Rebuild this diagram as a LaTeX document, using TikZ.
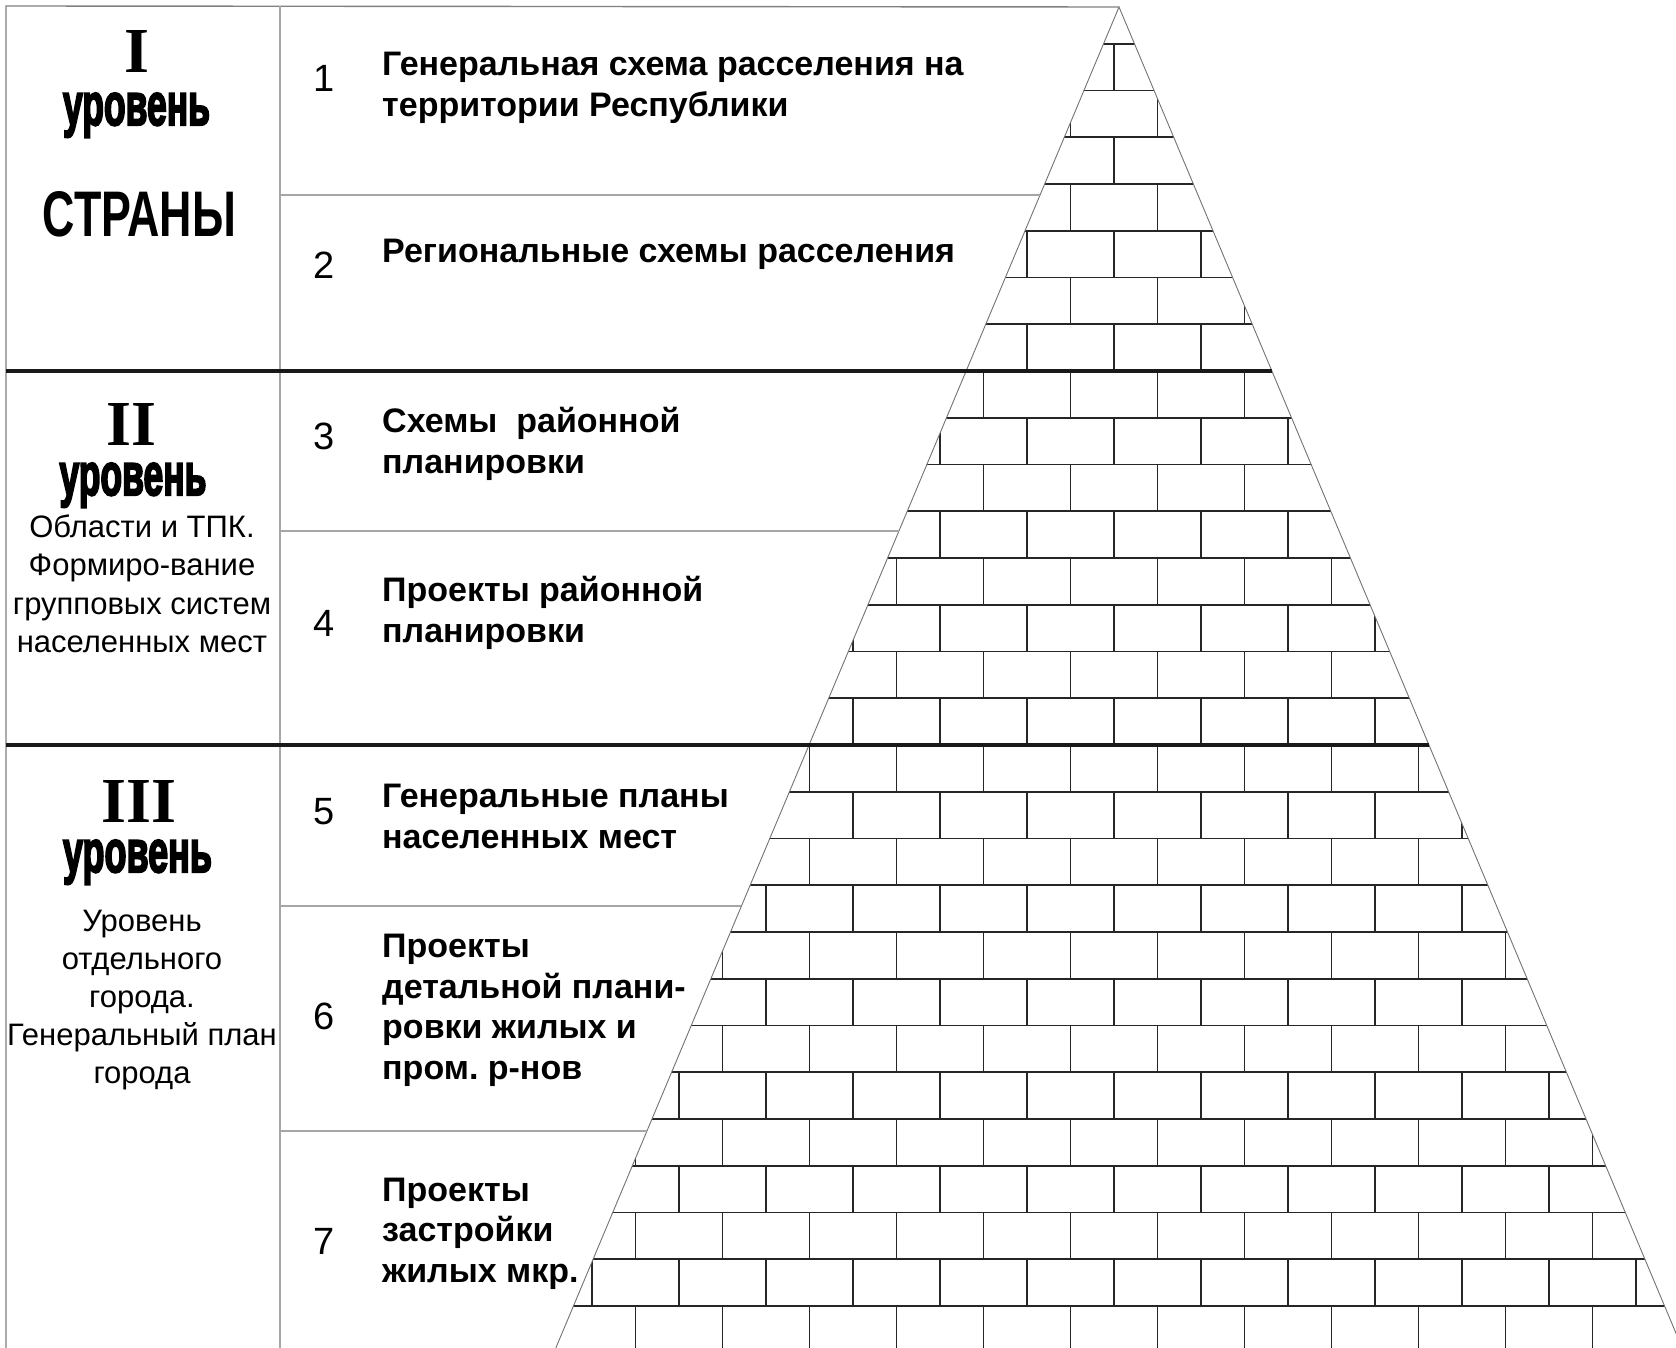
\documentclass[tikz,border=0pt]{standalone}
\usepackage{fontspec}
\usepackage{graphicx}
\setmainfont{Liberation Sans}
\newfontfamily\romfont{Liberation Serif}
\newfontfamily\impfont[FakeBold=4]{Liberation Sans Bold}
\frenchspacing
\begin{document}
\begin{tikzpicture}[x=1pt,y=-1pt,
  grayline/.style={draw=black!35, line width=1.3pt},
  frameline/.style={draw=black!50, line width=1.4pt},
  thickline/.style={draw=black!90, line width=3.6pt},
  brick/.style={draw=black!85, line width=1.6pt},
  edgeline/.style={draw=black!55, line width=0.9pt},
  num/.style={anchor=base, font=\fontsize{38}{40}\selectfont, inner sep=0pt},
  txt/.style={anchor=base west, font=\fontsize{34}{40}\selectfont\bfseries, inner sep=0pt},
  lvl/.style={anchor=base, font=\fontsize{31}{38}\selectfont, inner sep=0pt},
  rom/.style={anchor=base, inner sep=0pt},
]
\useasboundingbox[fill=white] (0,0) rectangle (1676,1348);
\coordinate (apex) at (1119,7);
\coordinate (bl) at (555.8,1348);
\coordinate (br) at (1682.2,1348);
% bricks
\begin{scope}
  \clip (apex) -- (bl) -- (br) -- cycle;
  \foreach \j in {-7,...,20} {
    \pgfmathsetmacro\yy{371+46.75*\j}
    \draw[brick] (500,\yy) -- (1700,\yy);
  }
  \foreach \j in {-8,...,20} {
    \pgfmathsetmacro\ya{371+46.75*\j}
    \pgfmathsetmacro\yb{371+46.75*(\j+1)}
    \pgfmathsetmacro\off{1070.5+43.5*mod(\j+100,2)}
    \foreach \k in {-7,...,7} {
      \draw[brick] (\off+87*\k,\ya) -- (\off+87*\k,\yb);
    }
  }
\end{scope}
% pyramid edges
\draw[edgeline] (bl) -- (apex) -- (br);
% frame
\coordinate (tl) at (6,6);
\coordinate (bot) at (6,1348);
\coordinate (ct) at (280,6);
\coordinate (cb) at (280,1348);
\draw[frameline] (bot) -- (tl) -- (apex);
\draw[grayline] (ct) -- (cb);
% thin row dividers
\draw[grayline] (280,195) -- (1040.0,195);
\draw[grayline] (280,531) -- (898.9,531);
\draw[grayline] (280,906) -- (741.4,906);
\draw[grayline] (280,1131) -- (646.9,1131);
% thick level dividers
\draw[thickline] (6,371) -- (1271.9,371);
\draw[thickline] (6,745) -- (1429.0,745);
% level I
\node[rom] (r1) at (137,73) {\resizebox{!}{42pt}{\romfont\bfseries I}};
\node[rom] (u1) at (136.5,125) {\resizebox{147pt}{32pt}{\impfont уровень}};
\node[rom] (s1) at (139.5,237) {\resizebox{193pt}{45pt}{\bfseries СТРАНЫ}};
% level II
\node[rom] (r2) at (131.5,445) {\resizebox{!}{42pt}{\romfont\bfseries II}};
\node[rom] (u2) at (133,495) {\resizebox{147pt}{32pt}{\impfont уровень}};
\node[lvl] (l2a) at (142,537) {Области и ТПК.};
\node[lvl] (l2b) at (142,575) {Формиро-вание};
\node[lvl] (l2c) at (142,614) {групповых систем};
\node[lvl] (l2d) at (142,652) {населенных мест};
% level III
\node[rom] (r3) at (139,822) {\resizebox{!}{42pt}{\romfont\bfseries III}};
\node[rom] (u3) at (137.5,872) {\resizebox{149pt}{32pt}{\impfont уровень}};
\node[lvl] (l3a) at (142,931) {Уровень};
\node[lvl] (l3b) at (142,969) {отдельного};
\node[lvl] (l3c) at (142,1007) {города.};
\node[lvl] (l3d) at (142,1045) {Генеральный план};
\node[lvl] (l3e) at (142,1083) {города};
% numbers
\node[num] (n1) at (324,92) {1};
\node[num] (n2) at (324,279) {2};
\node[num] (n3) at (324,449) {3};
\node[num] (n4) at (324,636) {4};
\node[num] (n5) at (324,824) {5};
\node[num] (n6) at (324,1029) {6};
\node[num] (n7) at (324,1254) {7};
% texts
\node[txt] (t1a) at (382,76) {Генеральная схема расселения на};
\node[txt] (t1b) at (382,117) {территории Республики};
\node[txt] (t2a) at (382,263) {Региональные схемы расселения};
\node[txt] (t3a) at (382,432) {Схемы\ \ районной};
\node[txt] (t3b) at (382,473) {планировки};
\node[txt] (t4a) at (382,601) {Проекты районной};
\node[txt] (t4b) at (382,642) {планировки};
\node[txt] (t5a) at (382,807) {Генеральные планы};
\node[txt] (t5b) at (382,848) {населенных мест};
\node[txt] (t6a) at (382,957) {Проекты};
\node[txt] (t6b) at (382,998) {детальной плани-};
\node[txt] (t6c) at (382,1038) {ровки жилых и};
\node[txt] (t6d) at (382,1079) {пром. р-нов};
\node[txt] (t7a) at (382,1201) {Проекты};
\node[txt] (t7b) at (382,1241) {застройки};
\node[txt] (t7c) at (382,1282) {жилых мкр.};
\end{tikzpicture}
\end{document}
